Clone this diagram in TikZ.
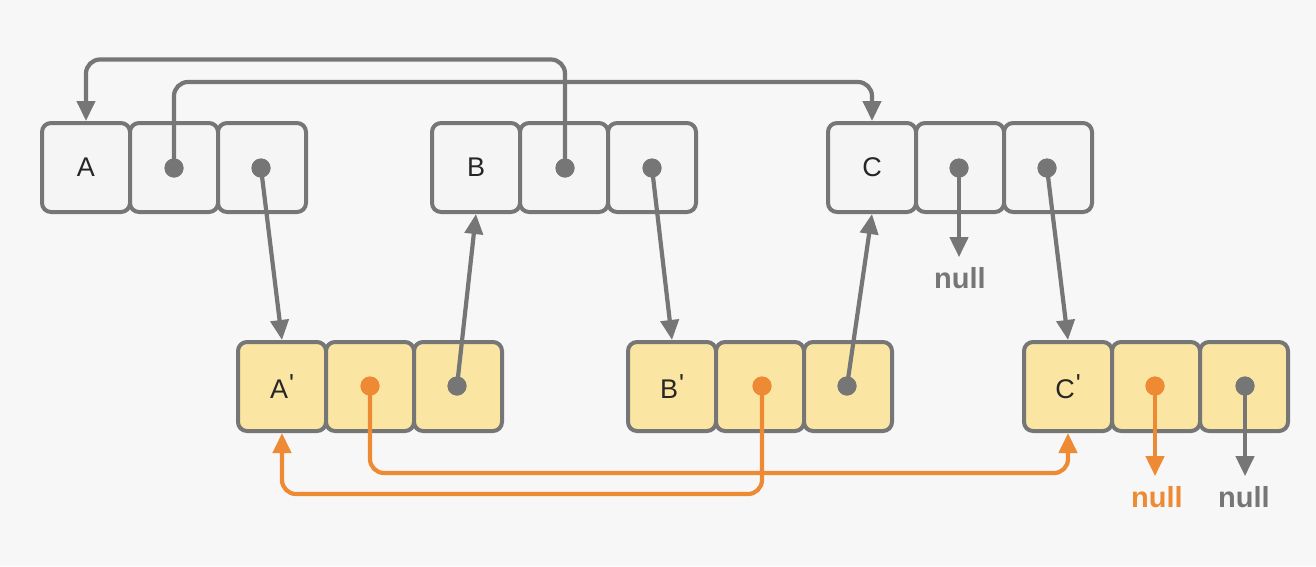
\documentclass[tikz,border=0pt]{standalone}
\usepackage{fontspec}
\setmainfont{Liberation Sans}
\usetikzlibrary{arrows.meta}
\definecolor{lcgray}{HTML}{767676}
\definecolor{lcorange}{HTML}{EE8A33}
\definecolor{cellY}{HTML}{FBE5A2}
\definecolor{cellW}{HTML}{F5F5F5}
\definecolor{bgc}{HTML}{F7F7F7}
\begin{document}
\begin{tikzpicture}[x=1pt,y=-1pt,
  cell/.style={draw=lcgray, line width=4pt, rounded corners=9pt, minimum width=88pt, minimum height=89pt, inner sep=0pt, fill=cellW, font=\fontsize{27}{30}\selectfont, text=black!85},
  ycell/.style={cell, fill=cellY},
  ptr/.style={draw=lcgray, line width=4.2pt, -{Triangle[length=20pt,width=18pt]}},
  optr/.style={ptr, draw=lcorange},
  dot/.style={circle, fill=lcgray, minimum size=19pt, inner sep=0pt},
  odot/.style={dot, fill=lcorange},
  nulltext/.style={font=\bfseries\fontsize{29}{30}\selectfont, text=lcgray, inner xsep=1pt, inner ysep=10pt},
  onulltext/.style={nulltext, text=lcorange}
]
\fill[bgc] (0,0) rectangle (1316,566);
\useasboundingbox (0,0) rectangle (1316,566);
\newcommand{\pr}{\kern1pt\raisebox{6pt}{\fontsize{26}{26}\selectfont\textquotesingle}}
% top row
\node[cell] (A1) at (86,167.5) {A};
\node[cell] (A2) at (174,167.5) {};
\node[cell] (A3) at (262,167.5) {};
\node[cell] (B1) at (476,167.5) {B};
\node[cell] (B2) at (564,167.5) {};
\node[cell] (B3) at (652,167.5) {};
\node[cell] (C1) at (872,167.5) {C};
\node[cell] (C2) at (960,167.5) {};
\node[cell] (C3) at (1048,167.5) {};
% bottom row
\node[ycell] (Ap1) at (282,386.5) {A\pr};
\node[ycell] (Ap2) at (370,386.5) {};
\node[ycell] (Ap3) at (458,386.5) {};
\node[ycell] (Bp1) at (672,386.5) {B\pr};
\node[ycell] (Bp2) at (760,386.5) {};
\node[ycell] (Bp3) at (848,386.5) {};
\node[ycell] (Cp1) at (1068,386.5) {C\pr};
\node[ycell] (Cp2) at (1156,386.5) {};
\node[ycell] (Cp3) at (1244,386.5) {};
% dots
\node[dot] (dA2) at (174,168) {};
\node[dot] (dA3) at (261,168) {};
\node[dot] (dB2) at (565,168) {};
\node[dot] (dB3) at (652,168) {};
\node[dot] (dC2) at (959,168) {};
\node[dot] (dC3) at (1047,168) {};
\node[odot] (dAp2) at (370,386) {};
\node[dot] (dAp3) at (457,386) {};
\node[odot] (dBp2) at (762,386) {};
\node[dot] (dBp3) at (847,386) {};
\node[odot] (dCp2) at (1155,386) {};
\node[dot] (dCp3) at (1245,386) {};
% null labels
\node[nulltext] (nC2) at (960,278) {null};
\node[onulltext] (nCp2) at (1157,497) {null};
\node[nulltext] (nCp3) at (1244,497) {null};
% routing levels
\coordinate (t1) at (0,82);
\coordinate (t2) at (0,59.5);
\coordinate (o1) at (0,473);
\coordinate (o2) at (0,494);
% connectors
\draw[ptr, rounded corners=14pt] (dA2.center) -- (dA2.center |- t1) -- (C1.north |- t1) -- (C1.north);
\draw[ptr, rounded corners=14pt] (dB2.center) -- (dB2.center |- t2) -- (A1.north |- t2) -- (A1.north);
\draw[ptr] (dA3.center) -- (Ap1.north);
\draw[ptr] (dAp3.center) -- (B1.south);
\draw[ptr] (dB3.center) -- (Bp1.north);
\draw[ptr] (dBp3.center) -- (C1.south);
\draw[ptr] (dC3.center) -- (Cp1.north);
\draw[ptr] (dC2.center) -- (dC2.center |- nC2.north);
\draw[optr] (dCp2.center) -- (dCp2.center |- nCp2.north);
\draw[ptr] (dCp3.center) -- (dCp3.center |- nCp3.north);
\draw[optr, rounded corners=14pt] (dAp2.center) -- (dAp2.center |- o1) -- (Cp1.south |- o1) -- (Cp1.south);
\draw[optr, rounded corners=14pt] (dBp2.center) -- (dBp2.center |- o2) -- (Ap1.south |- o2) -- (Ap1.south);
% redraw dots on top
\foreach \d in {dA2,dA3,dB2,dB3,dC2,dC3,dAp3,dBp3,dCp3} \fill[lcgray] (\d) circle (9.5pt);
\foreach \d in {dAp2,dBp2,dCp2} \fill[lcorange] (\d) circle (9.5pt);
\end{tikzpicture}
\end{document}
